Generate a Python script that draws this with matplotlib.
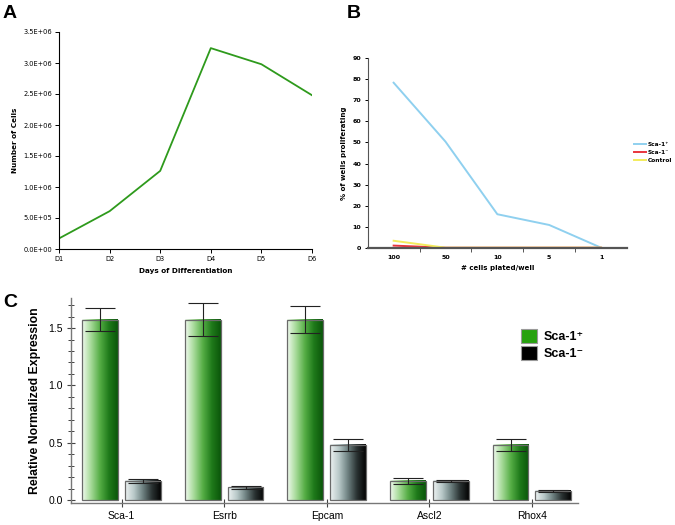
import numpy as np
import matplotlib
matplotlib.use("Agg")
import matplotlib.pyplot as plt
from matplotlib.colors import LinearSegmentedColormap
from matplotlib.patches import Patch

# ---------------- data ----------------
days = ["D1", "D2", "D3", "D4", "D5", "D6"]
cells = [1.7e5, 6.1e5, 1.26e6, 3.24e6, 2.98e6, 2.48e6]

plated = ["100", "50", "10", "5", "1"]
sca_pos_prolif = [78.4, 50.4, 15.9, 10.8, 0.0]
sca_neg_prolif = [1.0, 0.0, 0.0, 0.0, 0.0]
control_prolif = [3.3, 0.0, 0.0, 0.0, 0.0]

genes = ["Sca-1", "Esrrb", "Epcam", "Ascl2", "Rhox4"]
expr_pos = [1.575, 1.575, 1.575, 0.166, 0.482]
err_pos = [0.10, 0.14, 0.12, 0.023, 0.052]
expr_neg = [0.166, 0.110, 0.482, 0.166, 0.081]
err_neg = [0.015, 0.012, 0.050, 0.010, 0.008]

W, H = 675, 525
fig = plt.figure(figsize=(W / 100, H / 100), dpi=100)

def fx(px):
    return px / W

def fy(py):
    return 1 - py / H

# ---------------- Panel A ----------------
axA = fig.add_axes([fx(59), fy(249), fx(312 - 59), (249 - 32) / H])
xa = np.arange(len(days))
axA.plot(xa, cells, color="#2e9a1c", lw=1.3)
axA.set_xlim(0, len(days) - 1)
axA.set_ylim(0, 3.5e6)
axA.set_xticks(xa)
axA.set_xticklabels(days)
yt = np.arange(0, 3.5e6 + 1, 5e5)
axA.set_yticks(yt)
axA.set_yticklabels(["%.1E" % v for v in yt])
for s in ["top", "right"]:
    axA.spines[s].set_visible(False)
for s in ["left", "bottom"]:
    axA.spines[s].set_linewidth(0.8)
axA.tick_params(labelsize=4.8, length=3, width=0.7, pad=2)
axA.set_xlabel("Days of Differentiation", fontsize=5.2, fontweight="bold", labelpad=4)
axA.set_ylabel("Number of Cells", fontsize=5.2, fontweight="bold", labelpad=4)
fig.text(fx(3), fy(18), "A", fontsize=14, fontweight="bold", family="Liberation Sans")

# ---------------- Panel B ----------------
axB = fig.add_axes([fx(367.7), fy(247.7), fx(627 - 367.7), (247.7 - 58.3) / H])
xb = np.arange(len(plated))
axB.plot(xb, sca_pos_prolif, color="#8fd0ef", lw=1.4, label="Sca-1\u207a")
axB.plot(xb, sca_neg_prolif, color="#e8353c", lw=1.4, label="Sca-1\u207b")
axB.plot(xb, control_prolif, color="#f3ec5c", lw=1.4, label="Control")
axB.set_xlim(-0.5, len(plated) - 0.5)
axB.set_ylim(0, 90)
axB.set_yticks(np.arange(0, 91, 10))
axB.set_xticks(xb)
axB.set_xticklabels(plated)
axB.set_xticks(np.arange(0.5, len(plated) - 1, 1), minor=True)
axB.tick_params(axis="x", which="major", length=0, labelsize=4.6, pad=5)
axB.tick_params(axis="x", which="minor", length=3, width=0.7, color="#555555")
axB.tick_params(axis="y", labelsize=4.6, length=2.5, width=0.7, pad=2)
for lab in axB.get_xticklabels() + axB.get_yticklabels():
    lab.set_fontweight("bold")
for s in ["top", "right"]:
    axB.spines[s].set_visible(False)
axB.spines["bottom"].set_color("#555555")
axB.spines["bottom"].set_linewidth(1.6)
axB.spines["left"].set_color("#555555")
axB.spines["left"].set_linewidth(0.8)
axB.set_xlabel("# cells plated/well", fontsize=5.0, fontweight="bold", labelpad=4)
axB.set_ylabel("% of wells proliferating", fontsize=5.0, fontweight="bold", labelpad=4)
axB.legend(loc="center left", bbox_to_anchor=(fx(634), fy(152.5)),
           bbox_transform=fig.transFigure, frameon=False,
           prop={"size": 4.2, "weight": "bold"}, handlelength=2.0,
           handletextpad=0.4, labelspacing=0.55, borderaxespad=0, borderpad=0)
fig.text(fx(347), fy(18), "B", fontsize=14, fontweight="bold", family="Liberation Sans")

# ---------------- Panel C ----------------
axC = fig.add_axes([fx(71), fy(503), fx(578 - 71), (503 - 298.3) / H])
green_cmap = LinearSegmentedColormap.from_list(
    "g", ["#f2faf0", "#a6da98", "#55ad45", "#1f7a1a", "#0a560a"])
black_cmap = LinearSegmentedColormap.from_list(
    "k", ["#eef3f3", "#b8c8c8", "#6d8080", "#2a3232", "#030303"])

xc = np.arange(len(genes))
bw = 0.35
off = 0.208
bars_pos = axC.bar(xc - off, expr_pos, bw, facecolor="none", edgecolor="#6a6a6a",
                   lw=0.9, zorder=3)
bars_neg = axC.bar(xc + off, expr_neg, bw, facecolor="none", edgecolor="#6a6a6a",
                   lw=0.9, zorder=3)
grad = np.linspace(0, 1, 256).reshape(1, -1)
for bars, cmap in [(bars_pos, green_cmap), (bars_neg, black_cmap)]:
    for r in bars:
        x0, y0, w, h = r.get_x(), r.get_y(), r.get_width(), r.get_height()
        axC.imshow(grad, extent=(x0, x0 + w, y0, y0 + h), aspect="auto",
                   cmap=cmap, origin="lower", zorder=2, interpolation="bilinear")
axC.errorbar(xc - off, expr_pos, yerr=err_pos, fmt="none", ecolor="#222222",
             elinewidth=0.8, capsize=11, capthick=0.8, zorder=4)
axC.errorbar(xc + off, expr_neg, yerr=err_neg, fmt="none", ecolor="#222222",
             elinewidth=0.8, capsize=11, capthick=0.8, zorder=4)
axC.set_xlim(-0.494, 4.45)
axC.set_ylim(-0.026, 1.76)
axC.set_xticks(xc)
axC.set_xticklabels(genes, family="Liberation Sans", fontsize=7.5)
axC.set_yticks([0.0, 0.5, 1.0, 1.5])
axC.set_yticklabels(["0.0", "0.5", "1.0", "1.5"], family="Liberation Sans", fontsize=7.5)
axC.set_yticks(np.arange(0, 1.75, 0.1), minor=True)
axC.tick_params(axis="both", which="major", direction="inout", length=6, width=0.8,
                color="#444444", pad=3)
axC.tick_params(axis="y", which="minor", direction="inout", length=4, width=0.7,
                color="#444444")
for s in ["top", "right"]:
    axC.spines[s].set_visible(False)
for s in ["left", "bottom"]:
    axC.spines[s].set_color("#777777")
    axC.spines[s].set_linewidth(1.0)
axC.set_ylabel("Relative Normalized Expression", family="Liberation Sans",
               fontsize=8.8, fontweight="bold", labelpad=5)
handles = [Patch(facecolor="#27a20f", edgecolor="#999999", lw=0.8),
           Patch(facecolor="#000000", edgecolor="#999999", lw=0.8)]
fig.legend(handles, ["Sca-1\u207a", "Sca-1\u207b"], loc="upper left",
           bbox_to_anchor=(fx(521), fy(329)), frameon=False,
           prop={"family": ["Liberation Sans", "DejaVu Sans"], "size": 9,
                 "weight": "bold"},
           handlelength=1.3, handleheight=1.3, handletextpad=0.5,
           labelspacing=0.25, borderaxespad=0, borderpad=0)
fig.text(fx(3), fy(307), "C", fontsize=14, fontweight="bold", family="Liberation Sans")

fig.savefig("out.png", dpi=100)
